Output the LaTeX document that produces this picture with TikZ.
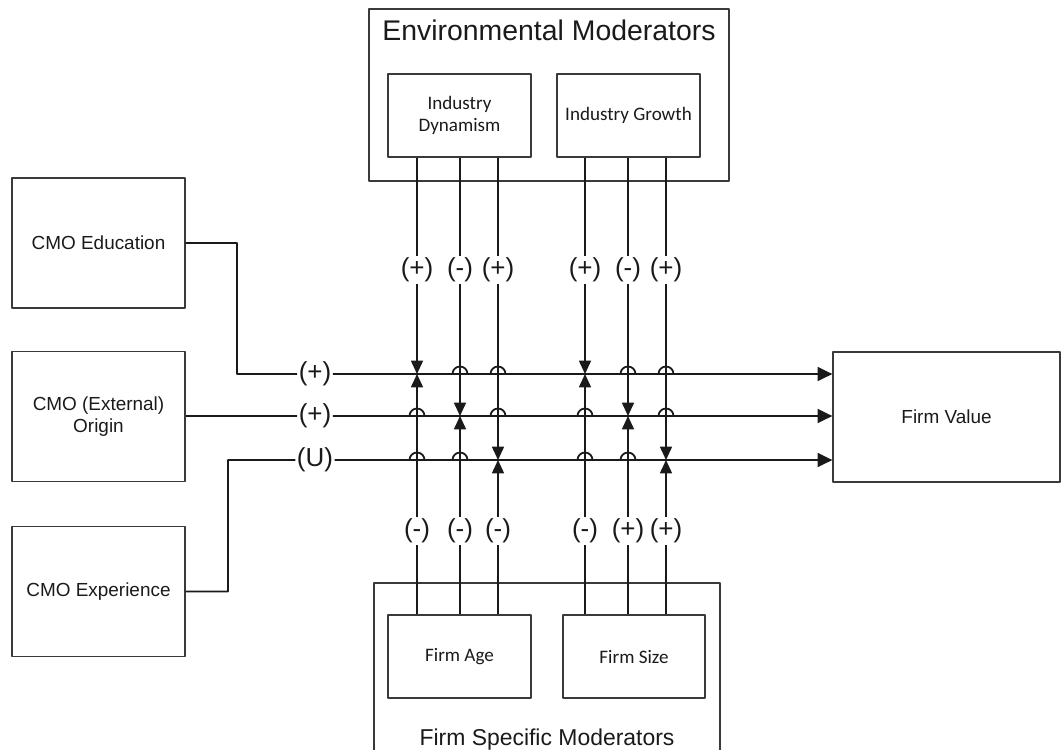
\documentclass[tikz,border=0pt]{standalone}
\usepackage{fontspec}
\setmainfont{Liberation Sans}
\newfontfamily\carlito{Carlito}
\usetikzlibrary{arrows.meta}
\definecolor{ink}{HTML}{1A1A1A}
\definecolor{frame}{HTML}{3A3A3A}
\newcommand{\boxfont}{\fontsize{14.2}{16.5}\selectfont}
\newcommand{\modfont}{\carlito\fontsize{14.3}{16.5}\selectfont}
\tikzset{
  every picture/.style = {line join=round},
  box/.style           = {draw=frame, line width=1pt, inner sep=0pt, align=center, text=ink},
  cmo/.style           = {box, minimum width=129.75pt, minimum height=97.5pt, font=\boxfont},
  moderator/.style     = {box, minimum width=107.25pt, minimum height=62.25pt, font=\modfont},
  conn/.style          = {draw=ink, line width=1.2pt, -{Triangle[length=10pt, width=9pt]}},
  mainconn/.style      = {conn, line width=1.35pt, -{Triangle[length=11pt, width=10.5pt]}},
  sign/.style          = {fill=white, inner sep=1pt, text=ink, font=\fontsize{19.5}{22}\selectfont},
}

\begin{document}
\begin{tikzpicture}[x=0.75pt, y=-0.75pt]
  \useasboundingbox (0,0) rectangle (1061,750);
  \def\hop{7.5}   % radius of a line jump

  % ---------- outer frames of the moderator groups ----------------------------
  \node[box, minimum width=270pt, minimum height=129pt] (env) at (549,95) {};
  \node[text=ink, font=\fontsize{21.3}{24}\selectfont] (envtitle) at (549,30) {Environmental Moderators};
  \node[box, minimum width=259.5pt, minimum height=140.25pt] (fsm) at (547,676.5) {};
  \node[text=ink, anchor=base, font=\fontsize{17.2}{20}\selectfont] (fsmtitle) at (547,745) {Firm Specific Moderators};

  % ---------- boxes ------------------------------------------------------------
  \node[moderator] (dyn)  at (459.5,115.5) {Industry\\Dynamism};
  \node[moderator] (grow) at (628.5,115.5) {Industry Growth};
  \node[moderator] (age)  at (459.5,656.5) {Firm Age};
  \node[moderator, minimum width=106.5pt] (size) at (634,656.5) {Firm Size};

  \node[cmo] (edu)  at (98.5,243)   {CMO Education};
  \node[cmo] (orig) at (98.5,416.5) {CMO (External)\\Origin};
  \node[cmo] (exp)  at (98.5,591.5) {CMO Experience};
  \node[box, minimum width=170.25pt, minimum height=97.5pt, font=\boxfont] (val) at (946.5,417) {Firm Value};

  % ---------- main effects, jumping the moderator lines --------------------------
  \coordinate (k1) at (237,374);
  \coordinate (k3) at (228,460);
  \node[sign] (h1) at (315,374) {(+)};
  \node[sign] (h2) at (315,416) {(+)};
  \node[sign] (h3) at (315,460) {(U)};

  \draw[mainconn] (edu.east) -| (k1) -- (h1)
    \foreach \x in {460,498,628,666} { -- ({\x-\hop},374) arc[start angle=180, end angle=360, radius=\hop] }
    -- (val.west |- h1);
  \draw[mainconn] (orig.east |- h2) -- (h2)
    \foreach \x in {417,498,585,666} { -- ({\x-\hop},416) arc[start angle=180, end angle=360, radius=\hop] }
    -- (val.west |- h2);
  \draw[mainconn] (exp.east) -| (k3) -- (h3)
    \foreach \x in {417,460,585,628} { -- ({\x-\hop},460) arc[start angle=180, end angle=360, radius=\hop] }
    -- (val.west |- h3);

  % ---------- moderating effects: from above and from below --------------------
  \foreach \n/\x/\r/\top/\bot/\up/\dn in {1/417/374/dyn/age/+/-,  2/460/416/dyn/age/-/-,
                                         3/498/460/dyn/age/+/-,  4/585/374/grow/size/+/-,
                                         5/628/416/grow/size/-/+, 6/666/460/grow/size/+/+} {
    \coordinate (j\n) at (\x,\r);
    \node[sign] (t\n) at (\x,270) {(\up)};
    \node[sign] (b\n) at (\x,531) {(\dn)};
    \draw[conn] (\top.south -| t\n) -- (t\n) -- (j\n);
    \draw[conn] (\bot.north -| b\n) -- (b\n) -- (j\n);
  }
\end{tikzpicture}
\end{document}
